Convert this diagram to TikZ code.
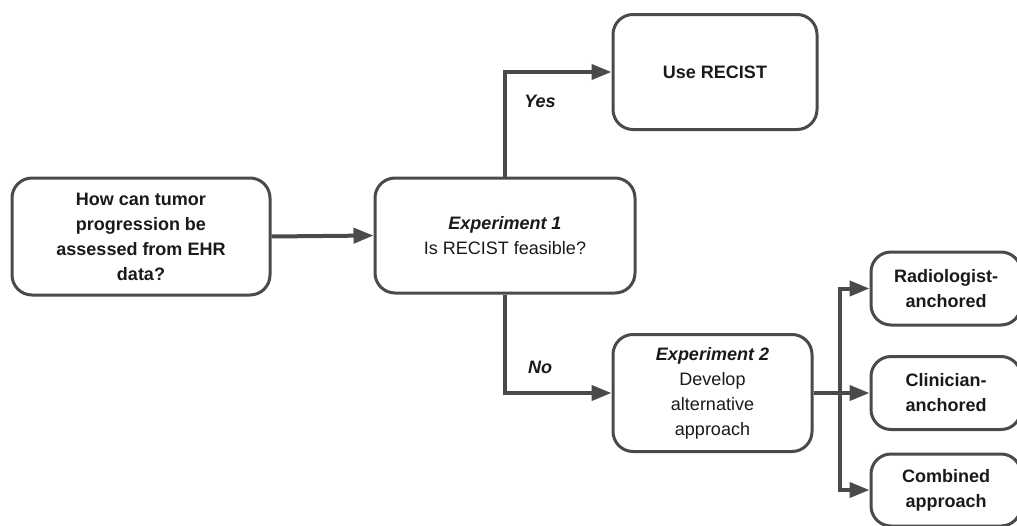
\documentclass[tikz,border=0pt]{standalone}
\usepackage{fontspec}
\setmainfont{Liberation Sans}
\usetikzlibrary{arrows.meta}
\definecolor{edge}{HTML}{4A4A4A}
\definecolor{ink}{HTML}{1A1A1A}
\tikzset{
  box/.style={draw=edge, line width=3pt, rounded corners=20pt, fill=white, align=center,
    text=ink, font=\fontsize{18}{25}\selectfont},
  conn/.style={draw=edge, line width=4pt},
  arr/.style={conn, -{Triangle[length=20pt,width=15pt]}},
  lbl/.style={text=ink, font=\fontsize{18}{22}\selectfont\bfseries\itshape},
}
\begin{document}
\begin{tikzpicture}[x=1pt,y=-1pt]
\useasboundingbox (0,0) rectangle (1017,525);
\clip (0,0) rectangle (1017,525);
\node[box, minimum width=258pt, minimum height=117pt] (q) at (141,236.5)
  {\bfseries How can tumor\\\bfseries progression be\\\bfseries assessed from EHR\\\bfseries data?};
\node[box, minimum width=260pt, minimum height=115pt] (e1) at (505,235.5)
  {\bfseries\itshape Experiment 1\\Is RECIST feasible?};
\node[box, minimum width=204pt, minimum height=115pt] (use) at (715,72)
  {\bfseries Use RECIST};
\node[box, minimum width=199pt, minimum height=117pt] (e2) at (712.5,393)
  {\bfseries\itshape Experiment 2\\Develop\\alternative\\approach};
\node[box, minimum width=150pt, minimum height=73pt] (rad) at (946,288.5)
  {\bfseries Radiologist-\\\bfseries anchored};
\node[box, minimum width=150pt, minimum height=73pt] (clin) at (946,393)
  {\bfseries Clinician-\\\bfseries anchored};
\node[box, minimum width=150pt, minimum height=72pt] (comb) at (946,490)
  {\bfseries Combined\\\bfseries approach};
\coordinate (j) at (840,393);
\draw[arr] (q.east) -- (e1.west);
\draw[arr] (e1.north) |- (use.west);
\draw[arr] (e1.south) |- (e2.west);
\draw[conn] (e2.east) -- (j);
\draw[arr] (j) -- (clin.west);
\draw[arr] (j) |- (rad.west);
\draw[arr] (j) |- (comb.west);
\node[lbl] (yes) at (540,101) {Yes};
\node[lbl] (no) at (540,367) {No};
\end{tikzpicture}
\end{document}
